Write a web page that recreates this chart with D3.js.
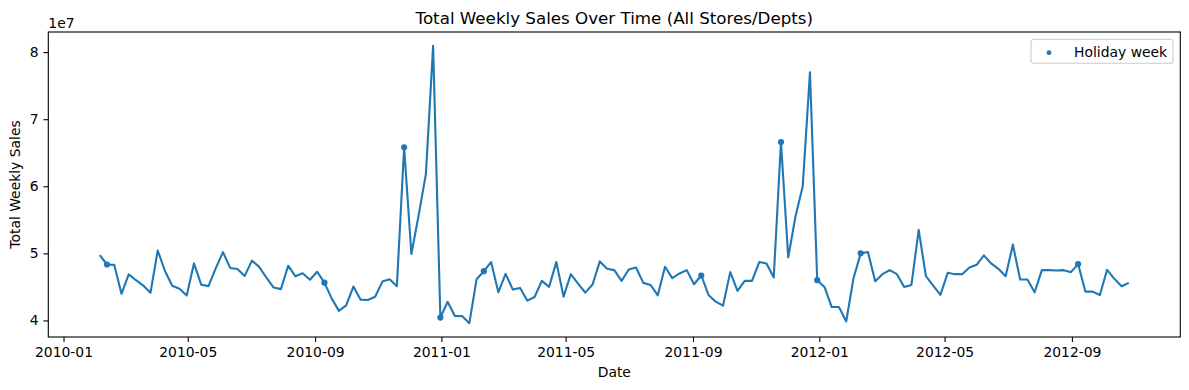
<!DOCTYPE html>
<html>
<head>
<meta charset="utf-8">
<script src="https://cdn.jsdelivr.net/npm/d3@7"></script>
<style>
    body { margin: 0; background: #fff; }
    svg text { font-family: 'DejaVu Sans', sans-serif; fill: #000; }
</style>
</head>
<body>
<svg id="chart" width="1189" height="390"></svg>
<script>
/* global d3 */
// first week in the data, one point every 7 days after it
var START_WEEK = '2010-02-05';
// total weekly sales, millions of dollars
var SALES_M = [
    49.75, 48.34, 48.28, 43.97, 46.87, 46.00, 45.20, 44.13, 50.42, 47.37,
    45.18, 44.73, 43.71, 48.50, 45.33, 45.12, 47.76, 50.19, 47.83, 47.67,
    46.64, 48.92, 47.99, 46.37, 44.91, 44.67, 48.16, 46.58, 47.03, 46.07,
    47.26, 45.63, 43.29, 41.43, 42.24, 45.05, 43.10, 43.04, 43.54, 45.79,
    46.13, 45.11, 65.82, 49.91, 55.67, 61.82, 80.93, 40.43, 42.78, 40.67,
    40.65, 39.60, 46.15, 47.34, 48.70, 44.20, 46.95, 44.60, 44.85, 42.95,
    43.50, 45.90, 45.00, 48.70, 43.55, 46.90, 45.50, 44.15, 45.35, 48.80,
    47.70, 47.50, 45.90, 47.60, 47.90, 45.60, 45.30, 43.75, 48.00, 46.30,
    47.00, 47.50, 45.40, 46.70, 43.80, 42.80, 42.20, 47.20, 44.40, 45.90,
    45.90, 48.70, 48.50, 46.40, 66.59, 49.40, 55.50, 60.00, 76.99, 46.00,
    45.00, 42.00, 42.00, 39.85, 46.25, 50.00, 50.20, 45.85, 46.90, 47.50,
    46.90, 45.00, 45.30, 53.50, 46.60, 45.20, 43.80, 47.10, 46.90, 46.90,
    47.90, 48.30, 49.70, 48.50, 47.70, 46.60, 51.30, 46.10, 46.10, 44.20,
    47.50, 47.50, 47.45, 47.50, 47.20, 48.40, 44.30, 44.30, 43.80, 47.55,
    46.20, 45.10, 45.60
];
var HOLIDAY_WEEKS = [
    '2010-02-12', '2010-09-10', '2010-11-26', '2010-12-31', '2011-02-11',
    '2011-09-09', '2011-11-25', '2011-12-30', '2012-02-10', '2012-09-07'
];
var Y_TICKS = [4e7, 5e7, 6e7, 7e7, 8e7];

(function() {
    'use strict';
    var W = 1189, H = 390,
        m = {left: 48.3, right: 1180.3, top: 32, bottom: 337},
        BLUE = '#1f77b4',
        parse = d3.utcParse('%Y-%m-%d'),
        start = parse(START_WEEK),
        svg = d3.select('#chart');

    var data = SALES_M.map(function(v, i) {
        return {date: d3.utcDay.offset(start, i * 7), value: v * 1e6};
    });
    var holidayKeys = HOLIDAY_WEEKS.map(function(s) { return +parse(s); });
    var holidays = data.filter(function(d) { return holidayKeys.indexOf(+d.date) >= 0; });

    // matplotlib style 5% margins
    var pad = function(ext) {
        var p = (ext[1] - ext[0]) * 0.05;
        return [ext[0] - p, ext[1] + p];
    };
    var xExt = d3.extent(data, function(d) { return +d.date; });
    var x = d3.scaleUtc()
        .domain(pad(xExt).map(function(t) { return new Date(t); }))
        .range([m.left, m.right]);
    var y = d3.scaleLinear()
        .domain(pad(d3.extent(data, function(d) { return d.value; })))
        .range([m.bottom, m.top]);

    svg.append('rect').attr('width', W).attr('height', H).attr('fill', '#fff');

    // line + holiday markers
    var line = d3.line()
        .x(function(d) { return x(d.date); })
        .y(function(d) { return y(d.value); });
    svg.append('path').datum(data)
        .attr('d', line)
        .attr('fill', 'none').attr('stroke', BLUE)
        .attr('stroke-width', 2.1).attr('stroke-linejoin', 'round');
    svg.selectAll('.holiday').data(holidays).enter().append('circle')
        .attr('class', 'holiday')
        .attr('cx', function(d) { return x(d.date); })
        .attr('cy', function(d) { return y(d.value); })
        .attr('r', 3.1).attr('fill', BLUE);

    // axes
    var xAxis = d3.axisBottom(x)
        .ticks(d3.utcMonth.every(4))
        .tickFormat(d3.utcFormat('%Y-%m'))
        .tickSize(4.9).tickPadding(4.9);
    var gx = svg.append('g').attr('transform', 'translate(0,' + m.bottom + ')').call(xAxis);
    var yAxis = d3.axisLeft(y)
        .tickValues(Y_TICKS)
        .tickFormat(function(d) { return d / 1e7; })
        .tickSize(4.9).tickPadding(4.9);
    var gy = svg.append('g').attr('transform', 'translate(' + m.left + ',0)').call(yAxis);
    [gx, gy].forEach(function(g) {
        g.select('.domain').remove();
        g.selectAll('.tick line').attr('stroke', '#000').attr('stroke-width', 1.1);
        g.selectAll('.tick text').attr('font-size', 13.9).attr('fill', '#000');
    });

    // frame
    svg.append('rect')
        .attr('x', m.left).attr('y', m.top)
        .attr('width', m.right - m.left).attr('height', m.bottom - m.top)
        .attr('fill', 'none').attr('stroke', '#000').attr('stroke-width', 1.1);

    // texts
    svg.append('text').attr('x', (m.left + m.right) / 2).attr('y', 23.5)
        .attr('text-anchor', 'middle').attr('font-size', 16.7)
        .text('Total Weekly Sales Over Time (All Stores/Depts)');
    svg.append('text').attr('x', (m.left + m.right) / 2).attr('y', 377)
        .attr('text-anchor', 'middle').attr('font-size', 13.9)
        .text('Date');
    svg.append('text')
        .attr('transform', 'translate(19.5,' + (m.top + m.bottom) / 2 + ') rotate(-90)')
        .attr('text-anchor', 'middle').attr('font-size', 13.9)
        .text('Total Weekly Sales');
    svg.append('text').attr('x', m.left).attr('y', 28)
        .attr('font-size', 13.9).text('1e7');

    // legend
    var lg = svg.append('g').attr('transform', 'translate(1031,39.3)');
    lg.append('rect').attr('width', 142).attr('height', 24)
        .attr('rx', 2.8).attr('fill', '#fff').attr('fill-opacity', 0.8)
        .attr('stroke', '#cccccc').attr('stroke-width', 1.1);
    lg.append('circle').attr('cx', 18).attr('cy', 13.4).attr('r', 2.4).attr('fill', BLUE);
    lg.append('text').attr('x', 43).attr('y', 18).attr('font-size', 13.9).text('Holiday week');
}());
</script>
</body>
</html>
